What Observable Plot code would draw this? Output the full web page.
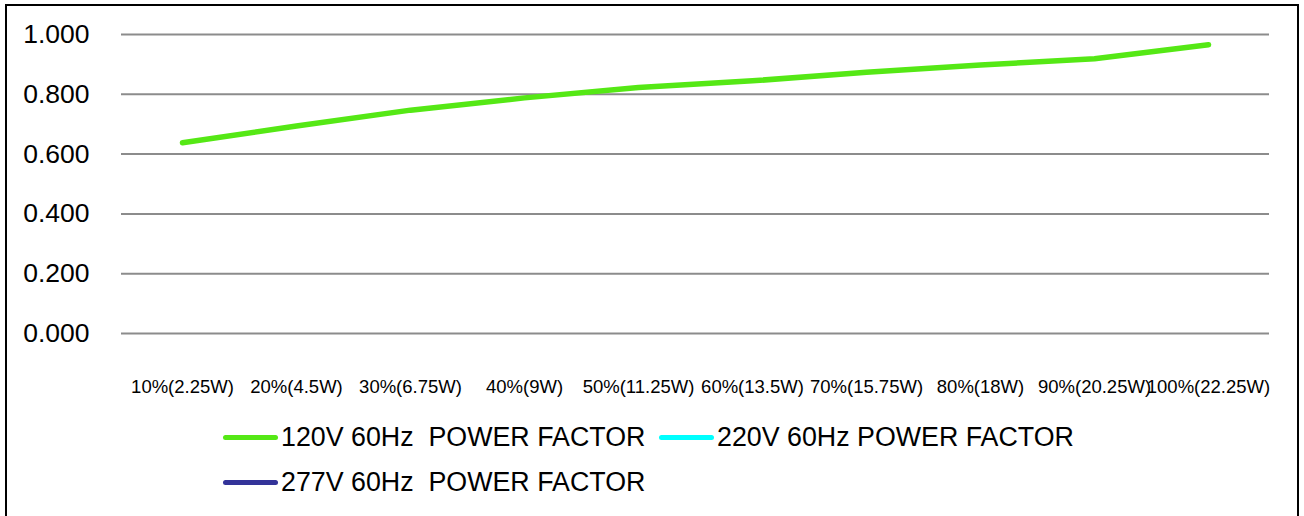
<!DOCTYPE html>
<html>
<head>
<meta charset="utf-8">
<script src="https://cdn.jsdelivr.net/npm/d3@7"></script>
<script src="https://cdn.jsdelivr.net/npm/@observablehq/plot@0.6"></script>
<style>
  html, body { margin: 0; padding: 0; background: #fff; overflow: hidden; }
  body { width: 1304px; height: 516px; position: relative; font-family: "Liberation Sans", Arial, sans-serif; }
  #frame { position: absolute; left: 5px; top: 4px; width: 1294px; height: 540px; border: 2px solid #000; box-sizing: border-box; }
  #chart { position: absolute; left: 0; top: 0; }
  .leg { position: absolute; display: flex; align-items: center; font-size: 26.8px; color: #000; white-space: pre; }
  .sw { width: 55px; height: 5px; border-radius: 3px; margin-right: 3px; }
</style>
</head>
<body>
<div id="frame"></div>
<div id="chart"></div>
<div id="legend"></div>
<script>
const categories = ["10%(2.25W)", "20%(4.5W)", "30%(6.75W)", "40%(9W)", "50%(11.25W)", "60%(13.5W)", "70%(15.75W)", "80%(18W)", "90%(20.25W)", "100%(22.25W)"];
const pf120 = [0.638, 0.694, 0.747, 0.788, 0.823, 0.845, 0.874, 0.898, 0.919, 0.966];
const pf220 = [];
const pf277 = [];
const seriesNames = ["120V 60Hz  POWER FACTOR", "220V 60Hz POWER FACTOR", "277V 60Hz  POWER FACTOR"];
const seriesColors = ["#55e815", "#00ffff", "#333399"];
const yTicks = [0, 0.2, 0.4, 0.6, 0.8, 1.0];

const seriesValues = [pf120, pf220, pf277];
const rows = [];
seriesValues.forEach((vals, si) => {
  vals.forEach((v, i) => rows.push({cat: categories[i], value: v, series: seriesNames[si]}));
});

const chart = Plot.plot({
  width: 1304,
  height: 400,
  marginLeft: 121,
  marginRight: 35,
  marginTop: 34,
  marginBottom: 67,
  style: {fontFamily: "'Liberation Sans', Arial, sans-serif", background: "transparent", color: "#000"},
  x: {type: "band", domain: categories, padding: 0, label: null},
  y: {domain: [0, 1], label: null},
  color: {domain: seriesNames, range: seriesColors},
  marks: [
    Plot.ruleY(yTicks, {stroke: "#8c8c8c", strokeWidth: 2}),
    Plot.axisY(yTicks, {tickSize: 0, tickPadding: 32, tickFormat: d => d.toFixed(3), fontSize: 26.5, label: null}),
    Plot.axisX({tickSize: 0, tickPadding: 46, fontSize: 18.5, label: null}),
    Plot.line(rows, {x: "cat", y: "value", z: "series", stroke: "series", strokeWidth: 5.5, strokeLinecap: "round", strokeLinejoin: "round"})
  ]
});
document.getElementById("chart").appendChild(chart);

const legendPos = [
  {left: 223, top: 437},
  {left: 659, top: 437},
  {left: 223, top: 482}
];
const legend = document.getElementById("legend");
seriesNames.forEach((name, i) => {
  const item = document.createElement("div");
  item.className = "leg";
  item.style.left = legendPos[i].left + "px";
  item.style.top = (legendPos[i].top - 16) + "px";
  item.style.height = "32px";
  const sw = document.createElement("div");
  sw.className = "sw";
  sw.style.background = seriesColors[i];
  const tx = document.createElement("span");
  tx.textContent = name;
  item.appendChild(sw);
  item.appendChild(tx);
  legend.appendChild(item);
});
</script>
</body>
</html>
